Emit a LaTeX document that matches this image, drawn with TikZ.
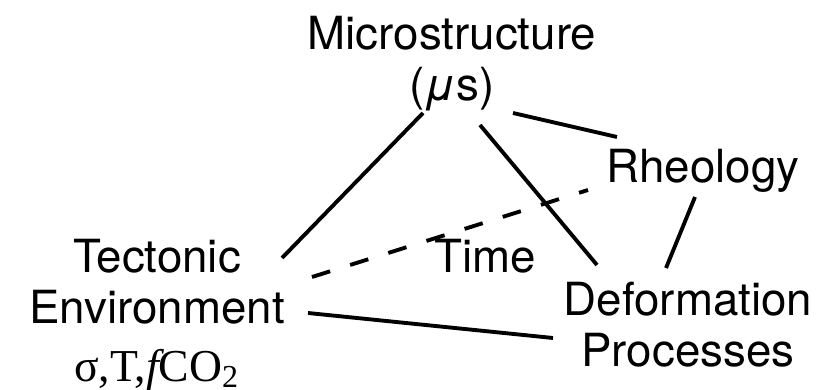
\documentclass[tikz,border=0pt]{standalone}
\usepackage{fontspec}
\setmainfont{TeX Gyre Heros}
\newfontfamily\timesfont{Liberation Serif}

\begin{document}
\begin{tikzpicture}[x=0.1mm,y=-0.1mm,
    term/.style={font=\fontsize{13}{14.5}\selectfont,inner sep=0pt,align=center},
    link/.style={line width=1.1pt},
    dashlink/.style={line width=1.1pt,dash pattern=on 1.9mm off 2.1mm}]
\useasboundingbox (0,0) rectangle (834,390);
    % the corners of the diagram and the label in the middle
    \node[term] (micro) at (452,64) {Microstructure\\({\itshape μ}s)};
    \node[term,anchor=base] (rheo) at (703,183) {Rheology};
    \node[term,anchor=base] (time) at (485,273) {Time};
    \node[term] (deform) at (688,325) {Deformation\\Processes};
    \node[term] (tect) at (157,315) {Tectonic\\Environment\\[2pt]{\timesfont σ,T,{\itshape f}CO\textsubscript{2}}};
    % connectors
    \draw[link] ([shift={(125,-57)}]tect.center) -- ([shift={(-29,49)}]micro.center);
    \draw[link] ([shift={(28,61)}]micro.center) -- ([shift={(-91,-60)}]deform.center);
    \draw[link] ([shift={(61,49)}]micro.center) -- ([shift={(-86,-46)}]rheo.base);
    \draw[link] ([shift={(-8,14)}]rheo.base) -- ([shift={(-22,-57)}]deform.center);
    \draw[link] ([shift={(151,-2)}]tect.center) -- ([shift={(-135,13)}]deform.center);
    \draw[dashlink] ([shift={(155,-38)}]tect.center) -- ([shift={(-115,7)}]rheo.base);
\end{tikzpicture}
\end{document}
